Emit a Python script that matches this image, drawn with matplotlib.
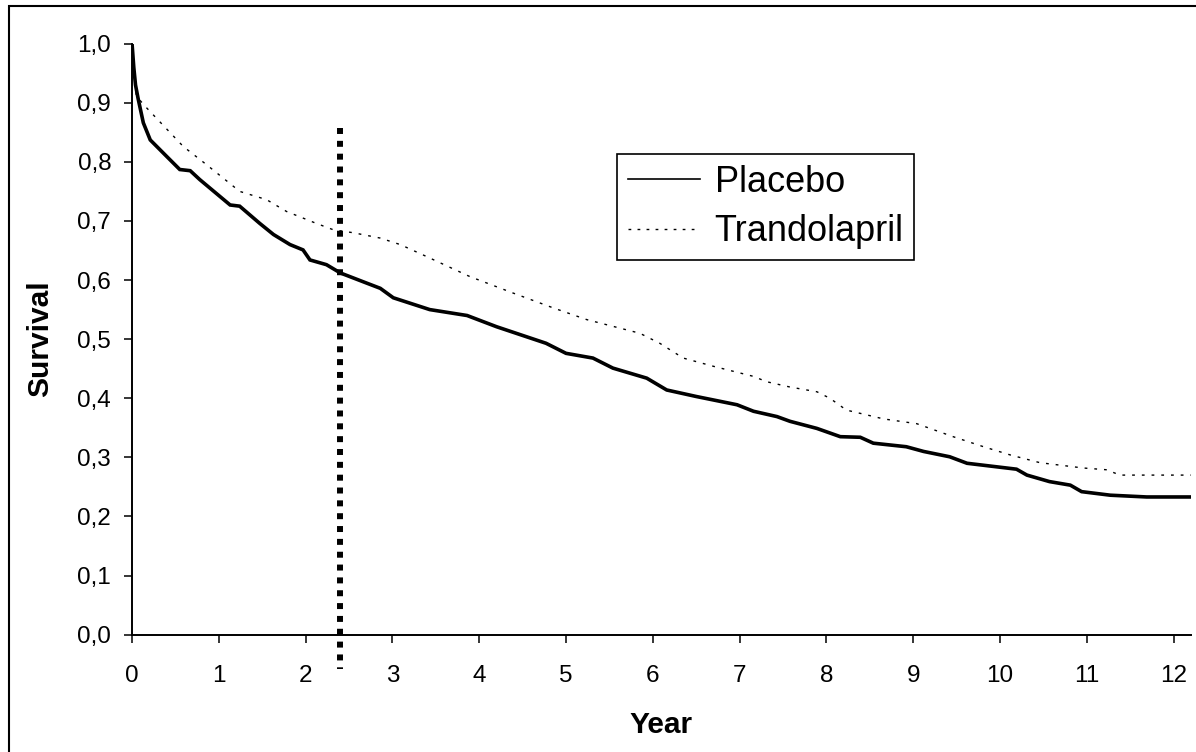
import matplotlib
matplotlib.use("Agg")
import matplotlib.pyplot as plt
from matplotlib.lines import Line2D
from matplotlib.patches import Rectangle

# Kaplan-Meier style survival curves
placebo_year = [0.0, 0.02, 0.04, 0.07, 0.13, 0.21, 0.40, 0.55, 0.67, 0.78, 1.13, 1.24,
                1.47, 1.63, 1.82, 1.97, 2.05, 2.24, 2.40, 2.70, 2.86, 3.01, 3.43, 3.86,
                4.20, 4.77, 5.00, 5.31, 5.54, 5.93, 6.16, 6.50, 6.97, 7.16, 7.43, 7.58,
                7.89, 8.16, 8.39, 8.54, 8.92, 9.12, 9.42, 9.62, 10.19, 10.31, 10.57,
                10.81, 10.94, 11.27, 11.69, 12.2]
placebo_surv = [1.0, 0.96, 0.93, 0.907, 0.866, 0.837, 0.809, 0.787, 0.785, 0.770, 0.727,
                0.725, 0.696, 0.677, 0.660, 0.651, 0.634, 0.626, 0.612, 0.595, 0.586,
                0.570, 0.550, 0.540, 0.521, 0.493, 0.476, 0.468, 0.451, 0.434, 0.414,
                0.403, 0.389, 0.378, 0.369, 0.361, 0.349, 0.335, 0.334, 0.324, 0.318,
                0.310, 0.301, 0.290, 0.280, 0.270, 0.259, 0.253, 0.242, 0.236, 0.233,
                0.233]

trando_year = [0.0, 0.02, 0.05, 0.17, 0.59, 0.86, 1.24, 1.55, 1.78, 2.12, 2.32, 2.55,
               2.86, 3.09, 3.39, 3.89, 4.39, 4.85, 5.24, 5.85, 6.08, 6.35, 6.70, 7.16,
               7.31, 7.58, 7.89, 8.04, 8.23, 8.66, 9.04, 9.46, 9.81, 10.12, 10.46,
               10.96, 11.23, 11.38, 12.2]
trando_surv = [1.0, 0.95, 0.911, 0.891, 0.826, 0.795, 0.750, 0.736, 0.716, 0.696, 0.685,
               0.680, 0.671, 0.660, 0.640, 0.606, 0.578, 0.553, 0.533, 0.510, 0.493,
               0.468, 0.454, 0.437, 0.428, 0.419, 0.411, 0.400, 0.380, 0.365, 0.357,
               0.335, 0.318, 0.304, 0.291, 0.282, 0.279, 0.270, 0.270]

cutoff_year = 2.4
x_ticks = list(range(0, 13))
y_ticks = [i / 10 for i in range(0, 11)]


def comma(v: float) -> str:
    return f"{v:.1f}".replace(".", ",")


def main() -> None:
    plt.rcParams["font.family"] = ["Liberation Sans", "DejaVu Sans"]

    fig = plt.figure(figsize=(11.96, 7.52), dpi=100)
    ax = fig.add_axes([0.1104, 0.156, 0.8854, 0.786])

    ax.plot(placebo_year, placebo_surv, color="black", lw=2.6, solid_joinstyle="miter")
    ax.plot(trando_year, trando_surv, color="black", lw=1.0, dashes=(2, 5))

    # thick square-dotted vertical marker, runs a little below the axis
    ax.plot([cutoff_year, cutoff_year], [0.858, -0.058], color="black", lw=4.3,
            dashes=(1, 1.15), dash_capstyle="butt", clip_on=False)

    ax.set_xlim(0, 12.2)
    ax.set_ylim(0, 1.0)
    ax.set_xticks(x_ticks)
    ax.set_xticklabels([str(t) for t in x_ticks])
    ax.set_yticks(y_ticks)
    ax.set_yticklabels([comma(t) for t in y_ticks])

    for side in ("top", "right"):
        ax.spines[side].set_visible(False)
    for side in ("left", "bottom"):
        ax.spines[side].set_linewidth(1.4)

    ax.tick_params(axis="both", direction="out", length=6, width=1.1, labelsize=17.5)
    ax.tick_params(axis="x", pad=16)
    ax.tick_params(axis="y", pad=9)

    ax.set_xlabel("Year", fontsize=21.5, fontweight="bold", labelpad=17)
    ax.set_ylabel("Survival", fontsize=21.5, fontweight="bold", labelpad=17)

    handles = [
        Line2D([], [], color="black", lw=1.2),
        Line2D([], [], color="black", lw=1.0, dashes=(2, 4.5)),
    ]
    leg = fig.legend(
        handles, ["Placebo", "Trandolapril"],
        loc="upper left", bbox_to_anchor=(617 / 1196, 1 - 154 / 752),
        fontsize=26, fancybox=False, framealpha=1, edgecolor="black",
        handlelength=2.0, handletextpad=0.4, borderpad=0.3, labelspacing=0.4,
        borderaxespad=0,
    )
    leg.get_frame().set_linewidth(1.2)

    # outer frame around the whole picture
    fig.patches.append(Rectangle((9 / 1196, -0.02), 1.1, 1 - 6 / 752 + 0.02,
                                 transform=fig.transFigure, fill=False,
                                 edgecolor="black", lw=1.5))

    fig.savefig("out.png", dpi=100)


if __name__ == "__main__":
    main()
